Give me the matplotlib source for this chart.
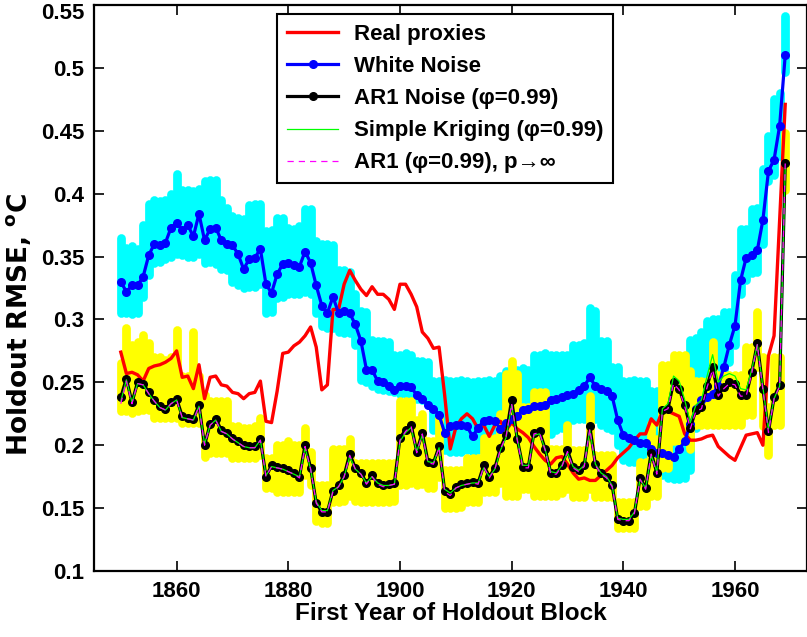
import numpy as np
import matplotlib
matplotlib.use('Agg')
import matplotlib.pyplot as plt
from matplotlib.transforms import ScaledTranslation

plt.rcParams['font.family'] = ['Liberation Sans', 'DejaVu Sans']
plt.rcParams['font.weight'] = 'bold'
plt.rcParams['axes.labelweight'] = 'bold'
plt.rcParams['mathtext.fontset'] = 'custom'
plt.rcParams['mathtext.rm'] = 'DejaVu Sans:bold'
plt.rcParams['mathtext.bf'] = 'DejaVu Sans:bold'

# first year of each holdout block
years = np.arange(1850, 1970)

real_proxies = [
    0.274, 0.257, 0.258, 0.256, 0.251, 0.261, 0.263, 0.264, 0.266, 0.269,
    0.275, 0.254, 0.255, 0.245, 0.264, 0.237, 0.254, 0.255, 0.248, 0.247,
    0.242, 0.241, 0.237, 0.241, 0.242, 0.251, 0.219, 0.218, 0.243, 0.273,
    0.274, 0.279, 0.282, 0.287, 0.294, 0.278, 0.244, 0.248, 0.308, 0.308,
    0.328, 0.339, 0.331, 0.324, 0.319, 0.326, 0.320, 0.320, 0.316, 0.308,
    0.328, 0.328, 0.320, 0.310, 0.290, 0.285, 0.277, 0.278, 0.240, 0.197,
    0.214, 0.221, 0.225, 0.221, 0.213, 0.216, 0.207, 0.216, 0.219, 0.212,
    0.218, 0.213, 0.210, 0.206, 0.199, 0.193, 0.188, 0.185, 0.190, 0.191,
    0.185, 0.178, 0.173, 0.174, 0.172, 0.172, 0.176, 0.180, 0.184, 0.190,
    0.194, 0.198, 0.204, 0.209, 0.209, 0.221, 0.216, 0.227, 0.227, 0.225,
    0.223, 0.209, 0.204, 0.204, 0.205, 0.207, 0.208, 0.199, 0.195, 0.191,
    0.188, 0.198, 0.208, 0.209, 0.210, 0.200, 0.271, 0.287, 0.379, 0.471]

white_noise = [
    0.330, 0.322, 0.327, 0.327, 0.334, 0.351, 0.360, 0.359, 0.361, 0.373,
    0.377, 0.371, 0.375, 0.366, 0.384, 0.363, 0.372, 0.373, 0.363, 0.360,
    0.359, 0.352, 0.340, 0.348, 0.349, 0.356, 0.328, 0.321, 0.336, 0.344,
    0.345, 0.343, 0.342, 0.354, 0.345, 0.327, 0.311, 0.305, 0.318, 0.305,
    0.307, 0.305, 0.296, 0.283, 0.260, 0.260, 0.251, 0.250, 0.247, 0.244,
    0.247, 0.247, 0.246, 0.240, 0.237, 0.232, 0.229, 0.224, 0.210, 0.215,
    0.216, 0.216, 0.215, 0.207, 0.214, 0.219, 0.220, 0.219, 0.213, 0.218,
    0.221, 0.223, 0.228, 0.229, 0.231, 0.231, 0.232, 0.236, 0.237, 0.238,
    0.240, 0.241, 0.244, 0.247, 0.254, 0.247, 0.245, 0.243, 0.239, 0.220,
    0.208, 0.206, 0.204, 0.202, 0.202, 0.197, 0.194, 0.194, 0.192, 0.191,
    0.197, 0.203, 0.217, 0.229, 0.236, 0.238, 0.241, 0.247, 0.262, 0.280,
    0.295, 0.331, 0.349, 0.351, 0.355, 0.379, 0.418, 0.427, 0.454, 0.510]

ar1_noise = [
    0.238, 0.253, 0.234, 0.250, 0.249, 0.242, 0.236, 0.231, 0.229, 0.234,
    0.237, 0.223, 0.222, 0.221, 0.232, 0.200, 0.217, 0.221, 0.212, 0.210,
    0.206, 0.203, 0.200, 0.199, 0.199, 0.205, 0.175, 0.184, 0.183, 0.182,
    0.180, 0.178, 0.175, 0.200, 0.182, 0.154, 0.147, 0.147, 0.164, 0.168,
    0.176, 0.193, 0.182, 0.178, 0.170, 0.176, 0.170, 0.168, 0.169, 0.170,
    0.206, 0.212, 0.216, 0.195, 0.210, 0.187, 0.186, 0.199, 0.164, 0.161,
    0.167, 0.169, 0.170, 0.171, 0.170, 0.184, 0.175, 0.182, 0.198, 0.208,
    0.236, 0.205, 0.183, 0.183, 0.210, 0.211, 0.197, 0.178, 0.178, 0.184,
    0.196, 0.183, 0.180, 0.184, 0.215, 0.185, 0.178, 0.175, 0.168, 0.141,
    0.140, 0.140, 0.146, 0.174, 0.166, 0.194, 0.178, 0.228, 0.229, 0.250,
    0.245, 0.232, 0.214, 0.228, 0.230, 0.247, 0.262, 0.240, 0.246, 0.250,
    0.249, 0.240, 0.240, 0.258, 0.281, 0.245, 0.211, 0.238, 0.248, 0.424]

kriging = [
    0.235, 0.252, 0.234, 0.249, 0.248, 0.241, 0.235, 0.230, 0.228, 0.233,
    0.236, 0.222, 0.221, 0.220, 0.231, 0.201, 0.216, 0.220, 0.211, 0.209,
    0.205, 0.202, 0.199, 0.198, 0.198, 0.204, 0.176, 0.183, 0.182, 0.181,
    0.179, 0.177, 0.175, 0.198, 0.181, 0.155, 0.148, 0.148, 0.164, 0.167,
    0.175, 0.191, 0.181, 0.177, 0.170, 0.175, 0.170, 0.168, 0.168, 0.169,
    0.203, 0.210, 0.214, 0.195, 0.208, 0.187, 0.186, 0.198, 0.165, 0.162,
    0.166, 0.168, 0.169, 0.170, 0.170, 0.182, 0.175, 0.181, 0.196, 0.206,
    0.232, 0.205, 0.184, 0.184, 0.208, 0.209, 0.197, 0.179, 0.178, 0.184,
    0.194, 0.183, 0.180, 0.184, 0.212, 0.185, 0.178, 0.175, 0.168, 0.142,
    0.141, 0.141, 0.147, 0.173, 0.166, 0.192, 0.179, 0.229, 0.233, 0.255,
    0.251, 0.236, 0.218, 0.232, 0.236, 0.255, 0.272, 0.250, 0.255, 0.257,
    0.255, 0.245, 0.244, 0.260, 0.280, 0.246, 0.213, 0.237, 0.247, 0.420]

ar1_pinf = [
    0.233, 0.251, 0.233, 0.249, 0.248, 0.241, 0.235, 0.230, 0.228, 0.233,
    0.236, 0.222, 0.221, 0.220, 0.231, 0.200, 0.216, 0.220, 0.211, 0.209,
    0.205, 0.202, 0.199, 0.198, 0.198, 0.204, 0.175, 0.183, 0.182, 0.181,
    0.179, 0.177, 0.174, 0.199, 0.181, 0.154, 0.147, 0.147, 0.163, 0.167,
    0.175, 0.192, 0.181, 0.177, 0.169, 0.175, 0.169, 0.167, 0.168, 0.169,
    0.204, 0.211, 0.215, 0.194, 0.209, 0.186, 0.185, 0.198, 0.163, 0.160,
    0.166, 0.168, 0.169, 0.170, 0.169, 0.183, 0.174, 0.181, 0.197, 0.207,
    0.233, 0.204, 0.182, 0.182, 0.209, 0.210, 0.196, 0.177, 0.177, 0.183,
    0.195, 0.182, 0.179, 0.183, 0.213, 0.184, 0.177, 0.174, 0.167, 0.141,
    0.140, 0.140, 0.146, 0.173, 0.165, 0.193, 0.177, 0.227, 0.229, 0.249,
    0.244, 0.231, 0.213, 0.227, 0.229, 0.246, 0.260, 0.239, 0.245, 0.249,
    0.248, 0.239, 0.239, 0.257, 0.280, 0.244, 0.210, 0.237, 0.247, 0.424]

# spread of the individual white noise / AR1 realisations (cloud envelope)
white_lo = [
    0.305, 0.305, 0.304, 0.305, 0.318, 0.335, 0.345, 0.346, 0.348, 0.350,
    0.352, 0.351, 0.350, 0.350, 0.352, 0.345, 0.346, 0.344, 0.340, 0.339,
    0.330, 0.327, 0.325, 0.326, 0.326, 0.328, 0.305, 0.306, 0.317, 0.318,
    0.320, 0.320, 0.320, 0.322, 0.320, 0.305, 0.295, 0.293, 0.293, 0.290,
    0.289, 0.289, 0.280, 0.252, 0.250, 0.247, 0.245, 0.244, 0.243, 0.242,
    0.241, 0.241, 0.240, 0.237, 0.236, 0.234, 0.212, 0.210, 0.196, 0.195,
    0.195, 0.195, 0.196, 0.195, 0.196, 0.196, 0.197, 0.197, 0.198, 0.205,
    0.206, 0.207, 0.207, 0.207, 0.208, 0.208, 0.208, 0.209, 0.212, 0.214,
    0.215, 0.220, 0.221, 0.221, 0.222, 0.221, 0.216, 0.214, 0.212, 0.200,
    0.188, 0.187, 0.187, 0.187, 0.186, 0.182, 0.180, 0.176, 0.174, 0.173,
    0.173, 0.174, 0.180, 0.214, 0.226, 0.227, 0.229, 0.238, 0.258, 0.266,
    0.280, 0.320, 0.331, 0.337, 0.338, 0.360, 0.410, 0.415, 0.430, 0.497]

white_hi = [
    0.365, 0.357, 0.358, 0.356, 0.375, 0.392, 0.395, 0.394, 0.395, 0.400,
    0.416, 0.403, 0.403, 0.402, 0.404, 0.410, 0.411, 0.411, 0.395, 0.389,
    0.382, 0.381, 0.380, 0.391, 0.392, 0.392, 0.370, 0.371, 0.381, 0.381,
    0.373, 0.372, 0.374, 0.388, 0.388, 0.362, 0.360, 0.360, 0.359, 0.339,
    0.339, 0.338, 0.320, 0.307, 0.306, 0.284, 0.283, 0.283, 0.282, 0.272,
    0.272, 0.273, 0.272, 0.267, 0.267, 0.266, 0.251, 0.251, 0.252, 0.251,
    0.251, 0.252, 0.251, 0.250, 0.251, 0.251, 0.252, 0.251, 0.255, 0.259,
    0.260, 0.260, 0.261, 0.260, 0.272, 0.272, 0.273, 0.272, 0.272, 0.272,
    0.272, 0.280, 0.280, 0.281, 0.309, 0.307, 0.283, 0.283, 0.262, 0.262,
    0.251, 0.251, 0.252, 0.251, 0.251, 0.243, 0.243, 0.244, 0.243, 0.243,
    0.250, 0.254, 0.284, 0.285, 0.290, 0.299, 0.300, 0.300, 0.306, 0.306,
    0.335, 0.372, 0.372, 0.388, 0.389, 0.420, 0.446, 0.475, 0.480, 0.541]

ar1_lo = [
    0.227, 0.227, 0.226, 0.227, 0.228, 0.228, 0.222, 0.222, 0.222, 0.222,
    0.222, 0.218, 0.218, 0.218, 0.218, 0.191, 0.194, 0.194, 0.194, 0.194,
    0.190, 0.190, 0.190, 0.190, 0.190, 0.192, 0.166, 0.166, 0.163, 0.163,
    0.163, 0.163, 0.163, 0.176, 0.168, 0.140, 0.138, 0.138, 0.155, 0.155,
    0.156, 0.160, 0.156, 0.155, 0.155, 0.155, 0.155, 0.155, 0.155, 0.156,
    0.168, 0.168, 0.170, 0.168, 0.169, 0.166, 0.166, 0.175, 0.150, 0.150,
    0.150, 0.151, 0.155, 0.155, 0.155, 0.163, 0.163, 0.163, 0.170, 0.160,
    0.160, 0.160, 0.165, 0.165, 0.160, 0.160, 0.160, 0.160, 0.160, 0.162,
    0.165, 0.159, 0.159, 0.159, 0.165, 0.159, 0.159, 0.159, 0.159, 0.134,
    0.134, 0.134, 0.134, 0.152, 0.152, 0.160, 0.160, 0.182, 0.182, 0.203,
    0.203, 0.203, 0.197, 0.216, 0.216, 0.216, 0.216, 0.216, 0.216, 0.216,
    0.216, 0.216, 0.224, 0.224, 0.262, 0.215, 0.192, 0.216, 0.216, 0.403]

ar1_hi = [
    0.265, 0.293, 0.280, 0.282, 0.288, 0.281, 0.270, 0.270, 0.268, 0.270,
    0.292, 0.255, 0.255, 0.290, 0.255, 0.240, 0.235, 0.235, 0.235, 0.235,
    0.215, 0.215, 0.214, 0.214, 0.215, 0.222, 0.190, 0.190, 0.200, 0.200,
    0.203, 0.200, 0.200, 0.214, 0.195, 0.168, 0.168, 0.168, 0.197, 0.197,
    0.197, 0.205, 0.186, 0.186, 0.186, 0.186, 0.186, 0.186, 0.186, 0.186,
    0.235, 0.235, 0.235, 0.220, 0.225, 0.203, 0.203, 0.222, 0.180, 0.180,
    0.180, 0.180, 0.190, 0.190, 0.190, 0.206, 0.206, 0.206, 0.225, 0.257,
    0.267, 0.257, 0.230, 0.230, 0.242, 0.242, 0.242, 0.197, 0.197, 0.197,
    0.216, 0.196, 0.196, 0.196, 0.239, 0.192, 0.192, 0.192, 0.192, 0.155,
    0.155, 0.155, 0.155, 0.187, 0.187, 0.217, 0.205, 0.264, 0.264, 0.272,
    0.272, 0.272, 0.259, 0.251, 0.251, 0.251, 0.282, 0.256, 0.256, 0.256,
    0.256, 0.256, 0.278, 0.278, 0.306, 0.270, 0.230, 0.270, 0.270, 0.448]

xtick_years = [1860, 1880, 1900, 1920, 1940, 1960]
ytick_vals = [0.1, 0.15, 0.2, 0.25, 0.3, 0.35, 0.4, 0.45, 0.5, 0.55]
ytick_labels = ['0.1', '0.15', '0.2', '0.25', '0.3', '0.35', '0.4', '0.45', '0.5', '0.55']

fig = plt.figure(figsize=(8.07, 6.37), dpi=100)
ax = fig.add_axes([94/807, 1 - 571/637, 713/807, 566/637])

# clouds of realisations, drawn as overlapping round dots per year
ax.vlines(years, white_lo, white_hi, colors=(0, 1, 1), linewidth=6.3,
          capstyle='round', zorder=1)
ax.vlines(years, ar1_lo, ar1_hi, colors=(1, 1, 0), linewidth=6.3,
          capstyle='round', zorder=2)

ax.plot(years, real_proxies, color=(1, 0, 0), lw=2.4, label='Real proxies', zorder=3)
ax.plot(years, white_noise, color=(0, 0, 1), lw=2.3, marker='o', ms=5.5,
        label='White Noise', zorder=4)
ax.plot(years, ar1_noise, color='black', lw=2.3, marker='o', ms=5.5,
        label='AR1 Noise (φ=0.99)', zorder=5)
ax.plot(years, kriging, color=(0, 1, 0), lw=0.9,
        label='Simple Kriging (φ=0.99)', zorder=6)
ax.plot(years, ar1_pinf, color=(1, 0, 1), lw=0.9, ls=(0, (5, 4)),
        label='AR1 (φ=0.99), p→∞', zorder=7)

ax.set_xlim(1845.2, 1972.9)
ax.set_ylim(0.1, 0.55)
ax.set_xticks(xtick_years)
ax.set_yticks(ytick_vals)
ax.set_yticklabels(ytick_labels)
ax.tick_params(direction='in', length=7, width=1.2, top=True, right=True,
               labelsize=16, pad=7)
for sp in ax.spines.values():
    sp.set_linewidth(1.6)

# top label would be clipped at the figure edge, nudge it down a little
top_lab = ax.yaxis.get_major_ticks()[-1].label1
top_lab.set_transform(top_lab.get_transform()
                      + ScaledTranslation(0, -4 / 72, fig.dpi_scale_trans))

ax.set_xlabel('First Year of Holdout Block', fontsize=17.5, labelpad=0)
ax.set_ylabel(r'Holdout RMSE, $^{\mathbf{o}}$C', fontsize=19,
              fontfamily='DejaVu Sans')
ax.yaxis.set_label_coords(-0.086, 0.435)

leg = ax.legend(loc='upper left', bbox_to_anchor=((277 - 94) / 713, 1 - (14 - 5) / 566),
                borderaxespad=0, fancybox=False, framealpha=1, edgecolor='black',
                prop={'weight': 'bold', 'size': 16}, handlelength=2.3,
                handletextpad=0.7, borderpad=0.45, labelspacing=0.5)
leg.get_frame().set_linewidth(1.5)

fig.savefig('out.png', dpi=100)
plt.close(fig)
